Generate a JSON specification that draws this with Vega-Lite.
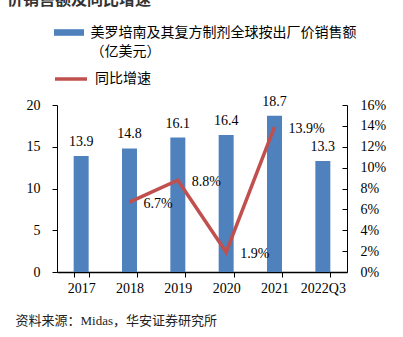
{
  "$schema": "https://vega.github.io/schema/vega-lite/v6.json",
  "width": 290,
  "height": 167,
  "autosize": {"type": "none"},
  "padding": {"left": 57, "top": 105, "right": 56, "bottom": 65},
  "background": "white",
  "title": {
    "text": "价销售额及同比增速",
    "anchor": "start",
    "frame": "group",
    "dx": -50,
    "offset": 17,
    "fontSize": 16,
    "fontWeight": "bold",
    "font": "Noto Sans CJK SC",
    "color": "#333333"
  },
  "config": {
    "view": {"stroke": null},
    "font": "Liberation Serif, Noto Sans CJK SC",
    "axis": {
      "labelFont": "Liberation Serif",
      "labelFontSize": 14,
      "labelColor": "#000000",
      "domainColor": "#000000",
      "tickColor": "#000000",
      "grid": false
    }
  },
  "data": {
    "values": [
      {"year": "2017", "sales": 13.9, "growth": null},
      {"year": "2018", "sales": 14.8, "growth": 0.067},
      {"year": "2019", "sales": 16.1, "growth": 0.088},
      {"year": "2020", "sales": 16.4, "growth": 0.019},
      {"year": "2021", "sales": 18.7, "growth": 0.139},
      {"year": "2022Q3", "sales": 13.3, "growth": null}
    ]
  },
  "encoding": {
    "x": {
      "field": "year",
      "type": "nominal",
      "sort": null,
      "scale": {"domain": ["2017", "2018", "2019", "2020", "2021", "2022Q3"], "paddingInner": 0.69, "paddingOuter": 0.345},
      "axis": {
        "title": "资料来源：Midas，华安证券研究所",
        "titleAnchor": "start",
        "titleAlign": "left",
        "titleBaseline": "middle",
        "titleX": -42,
        "titleY": 48,
        "titleFontSize": 13,
        "titleFontWeight": "normal",
        "titleFont": "Liberation Serif, Noto Sans CJK SC",
        "titleColor": "#222222",
        "labelAngle": 0,
        "tickBand": "extent",
        "tickSize": 5,
        "labelPadding": 4,
        "domainWidth": 1.5
      }
    }
  },
  "layer": [
    {
      "mark": {"type": "bar", "color": "#4F81BD"},
      "encoding": {
        "y": {
          "field": "sales",
          "type": "quantitative",
          "scale": {"domain": [0, 20]},
          "axis": {"orient": "left", "values": [0, 5, 10, 15, 20], "tickSize": 5, "labelPadding": 12, "title": null}
        },
        "fill": {
          "datum": "美罗培南及其复方制剂全球按出厂价销售额",
          "type": "nominal",
          "scale": {"domain": ["美罗培南及其复方制剂全球按出厂价销售额", "（亿美元）"], "range": ["#4F81BD", "#ffffff"]},
          "legend": {
            "orient": "none",
            "legendX": 4.5,
            "legendY": -80,
            "title": null,
            "padding": 0,
            "symbolType": "M-2,-0.44H2V0.44H-2Z",
            "symbolSize": 225,
            "symbolStrokeWidth": 0,
            "rowPadding": 4,
            "labelFont": "Noto Sans CJK SC",
            "labelFontSize": 14,
            "labelColor": "#000000",
            "labelLimit": 400,
            "labelOffset": 14
          }
        }
      }
    },
    {
      "mark": {"type": "text", "dy": -14, "baseline": "middle", "fontSize": 14, "font": "Liberation Serif", "color": "#000000"},
      "encoding": {
        "y": {"field": "sales", "type": "quantitative", "scale": {"domain": [0, 20]}, "axis": null},
        "text": {"field": "sales", "type": "quantitative", "format": ".1f"}
      }
    },
    {
      "mark": {"type": "line", "strokeWidth": 3.5},
      "encoding": {
        "y": {
          "field": "growth",
          "type": "quantitative",
          "scale": {"domain": [0, 0.16]},
          "axis": {"orient": "right", "format": ".0%", "values": [0, 0.02, 0.04, 0.06, 0.08, 0.1, 0.12, 0.14, 0.16], "tickSize": -5, "labelPadding": 18, "title": null}
        },
        "stroke": {
          "datum": "同比增速",
          "type": "nominal",
          "scale": {"range": ["#C0504D"]},
          "legend": {
            "orient": "none",
            "legendX": -4,
            "legendY": -44,
            "title": null,
            "padding": 0,
            "symbolType": "stroke",
            "symbolSize": 1024,
            "symbolStrokeWidth": 3.5,
            "labelFont": "Noto Sans CJK SC",
            "labelFontSize": 14,
            "labelColor": "#000000",
            "labelOffset": 6
          }
        }
      }
    },
    {
      "transform": [{"filter": "datum.growth != null"}],
      "mark": {"type": "text", "align": "left", "dx": 14, "dy": 2, "baseline": "middle", "fontSize": 14, "font": "Liberation Serif", "color": "#000000"},
      "encoding": {
        "y": {"field": "growth", "type": "quantitative", "scale": {"domain": [0, 0.16]}, "axis": null},
        "text": {"field": "growth", "type": "quantitative", "format": ".1%"}
      }
    }
  ],
  "resolve": {"scale": {"y": "independent"}}
}
